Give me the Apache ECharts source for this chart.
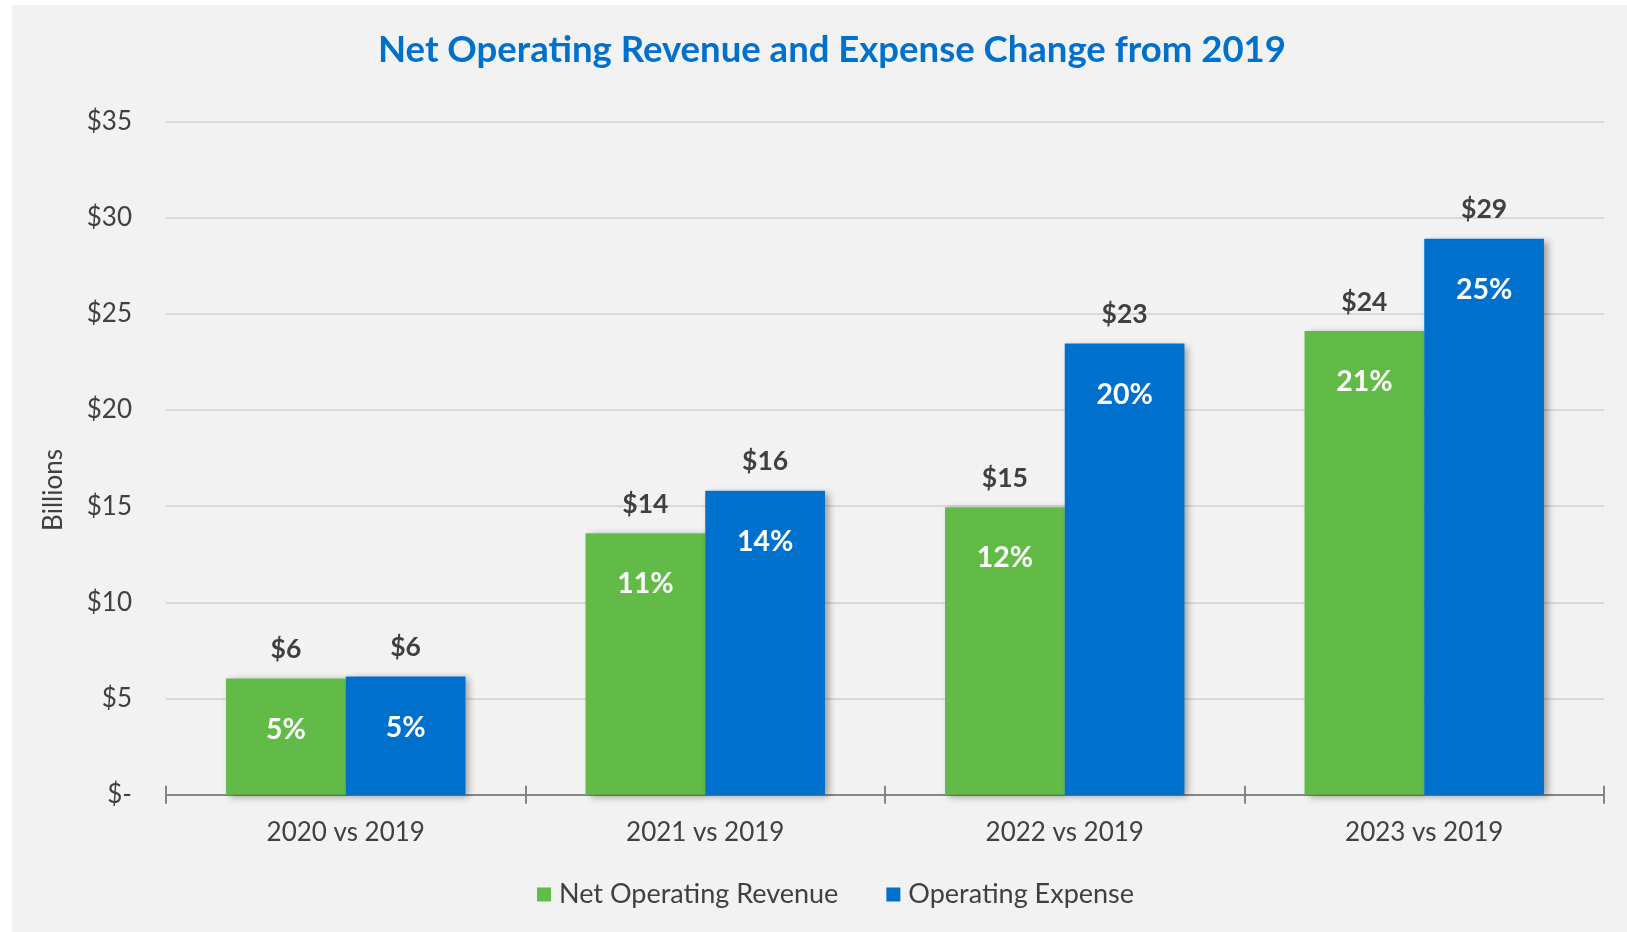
<!DOCTYPE html>
<html>
<head>
<meta charset="utf-8">
<script src="https://cdn.jsdelivr.net/npm/echarts@6/dist/echarts.min.js"></script>
<style>
  html, body { margin: 0; padding: 0; background: #ffffff; }
  #bg { position: absolute; left: 12px; top: 5px; width: 1615px; height: 927px; background: #f2f2f2; }
  #chart { position: absolute; left: 0; top: 0; width: 1627px; height: 932px; }
</style>
</head>
<body>
<div id="bg"></div>
<div id="chart"></div>
<script>
const categories = ['2020 vs 2019', '2021 vs 2019', '2022 vs 2019', '2023 vs 2019'];
const seriesNames = ['Net Operating Revenue', 'Operating Expense'];
const revenue = [6.05, 13.6, 14.95, 24.1];
const expense = [6.15, 15.8, 23.45, 28.9];
const revenuePct = [5, 11, 12, 21];
const expensePct = [5, 14, 20, 25];
const yTickLabels = ['$-', '$5', '$10', '$15', '$20', '$25', '$30', '$35'];

const FONT = 'Lato';
const GREEN = '#62BB46';
const BLUE = '#0070CD';

function makeLabel(pcts) {
  return {
    show: true,
    position: 'insideTop',
    distance: 0,
    offset: [0, -44],
    color: '#ffffff',
    textBorderWidth: 0,
    formatter: function (p) {
      return '{v|$' + Math.round(p.value) + '}\n{p|' + pcts[p.dataIndex] + '%}';
    },
    rich: {
      v: { fontFamily: FONT, fontSize: 26.5, fontWeight: 'bold', color: '#404040', lineHeight: 30, align: 'center' },
      p: { fontFamily: FONT, fontSize: 28.5, fontWeight: 'bold', color: '#ffffff', lineHeight: 130, align: 'center' }
    }
  };
}

const shadow = {
  shadowColor: 'rgba(0,0,0,0.35)',
  shadowBlur: 7,
  shadowOffsetX: 4,
  shadowOffsetY: 2
};

const chart = echarts.init(document.getElementById('chart'), null, { renderer: 'canvas' });
chart.setOption({
  backgroundColor: 'transparent',
  animation: false,
  title: {
    text: 'Net Operating Revenue and Expense Change from 2019',
    left: 827,
    textAlign: 'center',
    top: 27,
    textStyle: { fontFamily: FONT, fontSize: 36.5, fontWeight: 'bold', color: BLUE }
  },
  legend: {
    data: seriesNames,
    left: 532,
    top: 876,
    icon: 'rect',
    itemWidth: 14,
    itemHeight: 14,
    itemGap: 48,
    textStyle: { fontFamily: FONT, fontSize: 27, color: '#404040', padding: [0, 0, 0, 3] }
  },
  graphic: [{
    type: 'text',
    x: 54,
    y: 490,
    rotation: Math.PI / 2,
    style: { text: 'Billions', fontFamily: FONT, fontSize: 26, fill: '#404040', align: 'center', verticalAlign: 'middle' }
  }],
  grid: { left: 166, right: 23, top: 121.4, bottom: 137.2, containLabel: false },
  xAxis: [{
    type: 'category',
    data: categories,
    position: 'bottom',
    axisLine: { show: true, lineStyle: { color: '#868686', width: 2 } },
    axisTick: { show: true, length: 9, lineStyle: { color: '#868686', width: 2 } },
    axisLabel: { fontFamily: FONT, fontSize: 26, color: '#404040', margin: 25 },
    splitLine: { show: false }
  }, {
    type: 'category',
    data: categories,
    position: 'bottom',
    axisLine: { show: false },
    axisTick: { show: true, inside: true, length: 9, lineStyle: { color: '#868686', width: 2 } },
    axisLabel: { show: false },
    splitLine: { show: false }
  }],
  yAxis: {
    type: 'value',
    min: 0,
    max: 35,
    interval: 5,
    axisLine: { show: false },
    axisTick: { show: false },
    axisLabel: {
      fontFamily: FONT, fontSize: 26, color: '#404040', margin: 34,
      formatter: function (v) { return yTickLabels[Math.round(v / 5)]; }
    },
    splitLine: { lineStyle: { color: '#d9d9d9', width: 2 } }
  },
  series: [{
    name: seriesNames[0],
    type: 'bar',
    xAxisIndex: 0,
    data: revenue,
    barGap: '0%',
    barCategoryGap: '33.4%',
    itemStyle: Object.assign({ color: GREEN }, shadow),
    label: makeLabel(revenuePct)
  }, {
    name: seriesNames[1],
    type: 'bar',
    xAxisIndex: 0,
    data: expense,
    barGap: '0%',
    barCategoryGap: '33.4%',
    itemStyle: Object.assign({ color: BLUE }, shadow),
    label: makeLabel(expensePct)
  }]
});
</script>
</body>
</html>
